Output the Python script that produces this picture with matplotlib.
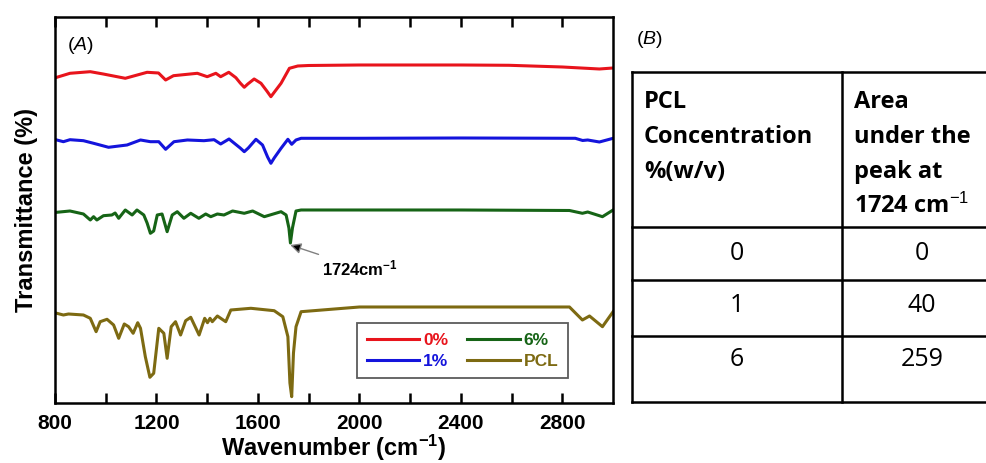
import numpy as np
import matplotlib.pyplot as plt

plt.rcParams['font.family'] = 'Liberation Sans'
plt.rcParams['mathtext.fontset'] = 'custom'
plt.rcParams['mathtext.rm'] = 'Liberation Sans'
plt.rcParams['mathtext.it'] = 'Liberation Sans:italic'
plt.rcParams['mathtext.bf'] = 'Liberation Sans:bold'

# FTIR spectra (arbitrary stacked units)
wn_0 = [807, 859, 939, 990, 1077, 1163, 1208, 1236, 1267, 1361, 1400, 1434, 1453, 1485, 1513, 1530,
        1546, 1560, 1585, 1612, 1635, 1651, 1665, 1691, 1724, 1757, 1800, 2000, 2400, 2590, 2800, 2946, 3000]
t_0 = [325.7, 329.7, 331.3, 329, 324.7, 330.7, 330, 323, 327.3, 329.7, 326.3, 329.7, 326.3, 330.7, 325.3, 320,
       315.7, 319, 324, 319.7, 312, 306.3, 311, 319.7, 334.7, 337, 337.5, 338, 338, 337.7, 336, 334, 335]

wn_1 = [807, 833, 859, 912, 952, 1011, 1084, 1137, 1176, 1209, 1236, 1269, 1322, 1387, 1427, 1453, 1486,
        1530, 1546, 1562, 1592, 1618, 1638, 1651, 1664, 1691, 1718, 1733, 1750, 1770, 2000, 2400, 2851,
        2880, 2900, 2946, 3000]
t_1 = [263, 261.3, 263.3, 262.3, 259.7, 255.7, 258, 263, 261.3, 261.3, 253.7, 261.3, 263, 262.3, 263.3, 259, 264,
       255, 251.3, 255, 263.7, 258, 246, 239.7, 245, 254.7, 263.7, 258.7, 263, 264.7, 264.7, 265, 264.7,
       262.5, 263, 261, 264.7]

wn_6 = [807, 859, 912, 939, 952, 965, 991, 1024, 1037, 1051, 1077, 1104, 1123, 1150, 1163, 1176, 1189,
        1203, 1222, 1242, 1262, 1282, 1308, 1335, 1367, 1394, 1414, 1440, 1466, 1500, 1546, 1579, 1625,
        1691, 1711, 1722, 1728, 1736, 1750, 1770, 2000, 2400, 2828, 2879, 2900, 2958, 3000]
t_6 = [190.7, 192, 189, 183, 186.3, 183, 187.3, 188, 190, 184.7, 193, 188, 193, 188, 180, 169.7, 172,
       188, 189, 171.3, 188, 191.3, 184.7, 189.7, 184.7, 189, 186.3, 189, 188, 192, 189.7, 192, 186.3,
       191.3, 188, 175, 160, 175, 192, 193, 193, 193, 192.5, 189.7, 191, 186.3, 193]

wn_pcl = [807, 833, 853, 912, 939, 962, 978, 1005, 1031, 1051, 1073, 1090, 1108, 1126, 1137, 1156, 1174,
          1189, 1209, 1229, 1242, 1258, 1275, 1295, 1315, 1335, 1368, 1390, 1401, 1411, 1420, 1440, 1473,
          1493, 1572, 1664, 1698, 1718, 1726, 1733, 1740, 1750, 1770, 2000, 2400, 2828, 2879, 2907, 2958, 3000]
t_pcl = [89.7, 88, 89, 88, 84.7, 71.3, 81.3, 83.7, 78, 64.7, 79, 76.3, 69.7, 80.3, 74.7, 46.3, 25.7,
         29.7, 74.7, 69.7, 44.7, 76.3, 81.3, 68, 82.3, 85.7, 68, 84.7, 80.3, 84.7, 81.3, 87, 81.3,
         93, 94.7, 92.3, 86.3, 66.3, 20, 6.3, 50, 76.3, 91.3, 96, 96, 96, 83, 87, 76.3, 91.3]

labels = ['0%', '1%', '6%', 'PCL']
colors = ['#e8141c', '#1414dc', '#166416', '#7d6a12']

# table (B)
tab_head = [['PCL', 'Concentration', '%(w/v)'],
            ['Area', 'under the', 'peak at', '1724 cm$^{-1}$']]
tab_conc = ['0', '1', '6']
tab_area = ['0', '40', '259']

fig = plt.figure(figsize=(9.86, 4.63), dpi=100)
ax = fig.add_axes([0.0558, 0.1296, 0.566, 0.8337])

series = [(wn_0, t_0), (wn_1, t_1), (wn_6, t_6), (wn_pcl, t_pcl)]
for (w, t), lab, c in zip(series, labels, colors):
    ax.plot(w, t, color=c, lw=2.2, label=lab)

ax.set_xlim(800, 3000)
ax.set_ylim(0, 386)
ax.set_xticks(np.arange(800, 3001, 400))
ax.set_xticks(np.arange(1000, 3000, 400), minor=True)
ax.set_yticks([])
ax.tick_params(axis='x', which='both', direction='in', top=True, length=7, width=1.8,
               labelsize=15, pad=8)
for lb in ax.get_xticklabels():
    lb.set_fontweight('bold')
for s in ax.spines.values():
    s.set_linewidth(1.8)

ax.set_xlabel('Wavenumber (cm$^{\\mathbf{-1}}$)', fontsize=17, fontweight='bold', labelpad=0)
ax.set_ylabel('Transmittance (%)', fontsize=17, fontweight='bold', labelpad=12)
ax.text(0.022, 0.925, '($\\mathit{A}$)', transform=ax.transAxes, fontsize=14, va='center')

ax.annotate('1724cm$^{\\mathbf{-1}}$', xy=(1727, 158), xytext=(1851, 135), fontsize=12,
            fontweight='bold', ha='left', va='center',
            arrowprops=dict(arrowstyle='-|>', fc='black', ec='gray', lw=1, mutation_scale=16,
                            shrinkA=2, shrinkB=0))

leg = ax.legend(ncol=2, loc='lower right', bbox_to_anchor=(0.935, 0.041),
                labelcolor='linecolor', prop={'weight': 'bold', 'size': 12.5}, fancybox=False,
                edgecolor='#333333', handlelength=3.0, columnspacing=1.1, borderpad=0.55,
                handletextpad=0.25, labelspacing=0.35)
leg.get_frame().set_linewidth(1.3)

# table drawn in pixel coordinates on an overlay
tx = fig.add_axes([0, 0, 1, 1])
tx.set_xlim(0, 986)
tx.set_ylim(463, 0)
tx.axis('off')

col_x = [632, 842, 1002]
row_y = [72, 227, 280, 336, 402]
for y in row_y:
    tx.plot([col_x[0], col_x[-1]], [y, y], color='black', lw=1.8, clip_on=False)
for x in col_x:
    tx.plot([x, x], [row_y[0], row_y[-1]], color='black', lw=1.8, clip_on=False)

tx.text(636, 40, '($\\mathit{B}$)', fontsize=14, va='center')
for j, lines in enumerate(tab_head):
    for i, line in enumerate(lines):
        tx.text(col_x[j] + 12, 108 + i * 35, line, fontsize=17, fontweight='bold',
                family='Open Sans', va='baseline')
cell_y = [253, 306, 360]
for i in range(len(tab_conc)):
    tx.text((col_x[0] + col_x[1]) / 2, cell_y[i], tab_conc[i], fontsize=18, family='Open Sans',
            ha='center', va='center')
    tx.text((col_x[1] + col_x[2]) / 2, cell_y[i], tab_area[i], fontsize=18, family='Open Sans',
            ha='center', va='center')

fig.savefig('out.png', dpi=100)
